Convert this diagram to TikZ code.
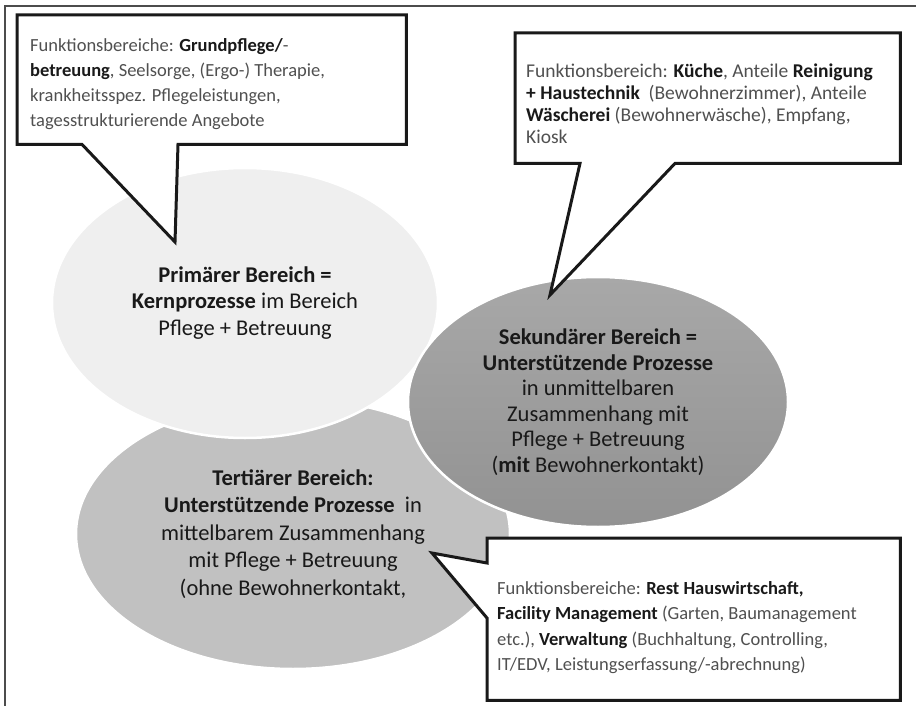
\documentclass[tikz,border=0pt]{standalone}
\usepackage{fontspec}
\setmainfont{Carlito}
\usetikzlibrary{shapes.geometric,positioning}
\definecolor{primgray}{RGB}{239,239,239}
\definecolor{tertgray}{RGB}{193,193,193}
\definecolor{sektop}{RGB}{168,168,168}
\definecolor{sekbot}{RGB}{146,146,146}
\definecolor{calltxt}{RGB}{80,80,80}
\newcommand\hervor[1]{\textcolor{black!90}{\textbf{#1}}}

\begin{document}
\begin{tikzpicture}[x=1pt,y=-1pt,
  bereich/.style={ellipse, draw=white, line width=2.5pt, align=center, text=black!90, inner sep=0pt, font=\fontsize{22.5}{26.5}\selectfont},
  callbox/.style={fill=white, anchor=north west, inner sep=0pt},
  calltext/.style={align=left, anchor=north west, inner sep=0pt, text=calltxt},
  callline/.style={draw=black!90, fill=white, line width=3pt}
  ]
\useasboundingbox (0,0) rectangle (916,706);
\draw[black!70, line width=1.5pt] (5,706) -- (5,6) -- (916,6);

\node[bereich, fill=tertgray, minimum width=434pt, minimum height=270pt, font=\fontsize{22.5}{27.5}\selectfont] (tert) at (293,534)
  {\textbf{Tertiärer Bereich:}\\ \textbf{Unterstützende Prozesse}\ \ in\\ mittelbarem Zusammenhang\\ mit Pflege + Betreuung\\ (ohne Bewohnerkontakt,};
\node[bereich, fill=primgray, minimum width=386pt, minimum height=270pt] (prim) at (245,303)
  {\textbf{Primärer Bereich =}\\ \textbf{Kernprozesse} im Bereich\\ Pflege + Betreuung};
\node[bereich, top color=sektop, bottom color=sekbot, minimum width=380pt, minimum height=250pt, font=\fontsize{22.5}{25.5}\selectfont] (sek) at (598,402)
  {\textbf{Sekundärer Bereich =}\\ \textbf{Unterstützende Prozesse}\\ in unmittelbaren\\ Zusammenhang mit\\ Pflege + Betreuung\\ (\textbf{mit} Bewohnerkontakt)};

\node[callbox, minimum width=389pt, minimum height=129pt] (fb1) at (17,15) {};
\coordinate (fb1tip) at (175,242);
\draw[callline] (fb1.north west) -- (fb1.north east) -- (fb1.south east) -- ([xshift=161pt]fb1.south west)
  -- (fb1tip) -- ([xshift=65pt]fb1.south west) -- (fb1.south west) -- cycle;
\node[calltext, font=\fontsize{18.5}{25}\selectfont, below right=23pt and 13pt of fb1.north west] (fb1text)
  {Funktionsbereiche: \hervor{Grundpflege/}-\\ \hervor{betreuung}, Seelsorge, (Ergo-) Therapie,\\ krankheitsspez. Pflegeleistungen,\\ tagesstrukturierende Angebote};

\node[callbox, minimum width=385pt, minimum height=130pt] (fb2) at (515,33) {};
\coordinate (fb2tip) at (550,295);
\draw[callline] (fb2.north west) -- (fb2.north east) -- (fb2.south east) -- ([xshift=160pt]fb2.south west)
  -- (fb2tip) -- ([xshift=65pt]fb2.south west) -- (fb2.south west) -- cycle;
\node[calltext, font=\fontsize{19.5}{22}\selectfont, below right=31pt and 11pt of fb2.north west] (fb2text)
  {Funktionsbereich: \hervor{Küche}, Anteile \hervor{Reinigung}\\ \hervor{+ Haustechnik}\ \ (Bewohnerzimmer), Anteile\\ \hervor{Wäscherei} (Bewohnerwäsche), Empfang,\\ Kiosk};

\node[callbox, minimum width=413pt, minimum height=162pt] (fb3) at (487,538) {};
\coordinate (fb3tip) at (432,553);
\draw[callline] (fb3.north west) -- (fb3.north east) -- (fb3.south east) -- (fb3.south west)
  -- ([yshift=-80pt]fb3.north west) -- (fb3tip) -- ([yshift=-25pt]fb3.north west) -- cycle;
\node[calltext, font=\fontsize{18.5}{25.5}\selectfont, below right=43pt and 10pt of fb3.north west] (fb3text)
  {Funktionsbereiche: \hervor{Rest Hauswirtschaft,}\\ \hervor{Facility Management} (Garten, Baumanagement\\ etc.), \hervor{Verwaltung} (Buchhaltung, Controlling,\\ IT/EDV, Leistungserfassung/-abrechnung)};
\end{tikzpicture}
\end{document}
